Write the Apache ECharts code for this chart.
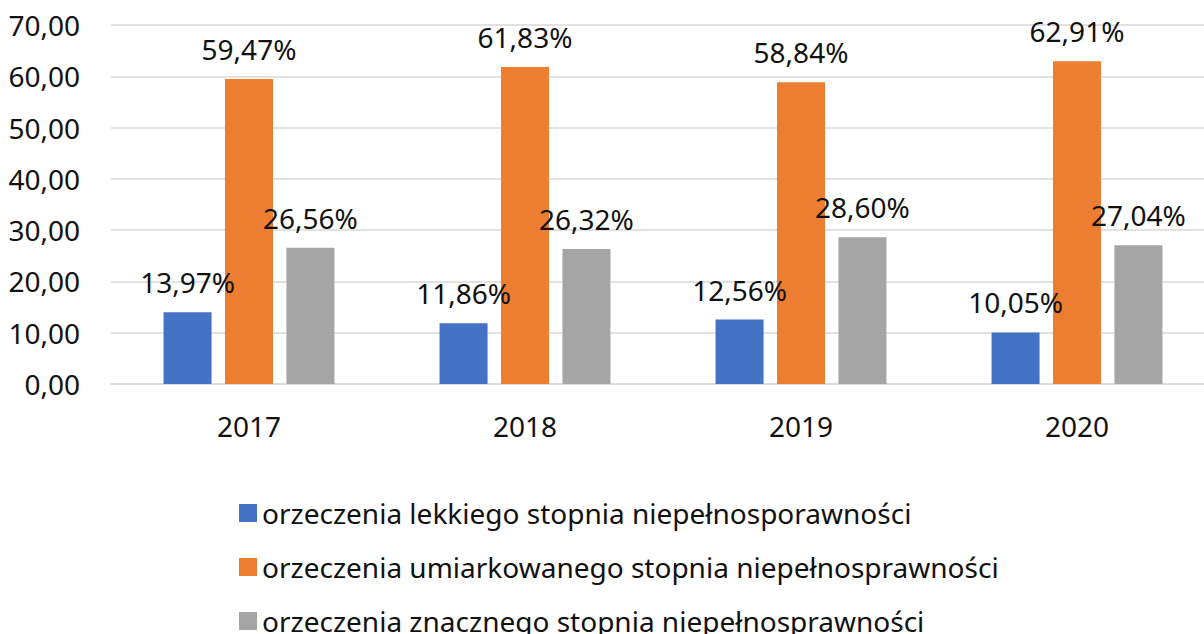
<!DOCTYPE html>
<html>
<head>
<meta charset="utf-8">
<script src="https://cdn.jsdelivr.net/npm/echarts@6/dist/echarts.min.js"></script>
<style>
  html, body { margin: 0; padding: 0; background: #fff; overflow: hidden; }
  #chart { width: 1216px; height: 634px; }
</style>
</head>
<body>
<div id="chart"></div>
<script>
var years = ['2017', '2018', '2019', '2020'];
var seriesNames = [
  'orzeczenia lekkiego stopnia niepełnosporawności',
  'orzeczenia umiarkowanego stopnia niepełnosprawności',
  'orzeczenia znacznego stopnia niepełnosprawności'
];
var lightValues = [13.97, 11.86, 12.56, 10.05];
var moderateValues = [59.47, 61.83, 58.84, 62.91];
var severeValues = [26.56, 26.32, 28.60, 27.04];
var colors = ['#4472C4', '#ED7D31', '#A5A5A5'];

(function() {
  var font = '"Noto Sans", sans-serif';
  var ink = '#111';
  var rule = '#d9d9d9';

  function comma(v, suffix) {
    return v.toFixed(2).replace('.', ',') + (suffix || '');
  }

  function barSeries(name, data, color) {
    return {
      name: name,
      type: 'bar',
      data: data,
      barWidth: 48,
      barGap: '28%',
      itemStyle: { color: color },
      label: {
        show: true,
        position: 'top',
        distance: 16,
        color: ink,
        fontFamily: font,
        fontSize: 28,
        formatter: function(p) { return comma(p.value, '%'); }
      }
    };
  }

  // chart canvas is a bit wider than the window: the plot runs past the right edge
  var chart = echarts.init(document.getElementById('chart'), null, { renderer: 'svg' });
  chart.setOption({
    animation: false,
    color: colors,
    grid: { left: 111, width: 1104, top: 25, bottom: 250, containLabel: false },
    legend: {
      orient: 'vertical',
      left: 239,
      top: 499,
      height: 200,
      padding: 0,
      itemWidth: 18,
      itemHeight: 18,
      itemGap: 26,
      icon: 'rect',
      textStyle: { color: ink, fontFamily: font, fontSize: 28, lineHeight: 28 },
      data: seriesNames
    },
    xAxis: {
      type: 'category',
      data: years,
      axisLine: { show: true, lineStyle: { color: rule, width: 1.5 } },
      axisTick: { show: false },
      axisLabel: { color: ink, fontFamily: font, fontSize: 28, margin: 28 }
    },
    yAxis: {
      type: 'value',
      min: 0,
      max: 70,
      interval: 10,
      axisLine: { show: false },
      axisTick: { show: false },
      splitLine: { lineStyle: { color: rule, width: 1.5 } },
      axisLabel: {
        color: ink,
        fontFamily: font,
        fontSize: 28,
        margin: 31,
        formatter: function(v) { return comma(v); }
      }
    },
    series: [
      barSeries(seriesNames[0], lightValues, colors[0]),
      barSeries(seriesNames[1], moderateValues, colors[1]),
      barSeries(seriesNames[2], severeValues, colors[2])
    ]
  });
  window.addEventListener('resize', function() { chart.resize(); });
})();
</script>
</body>
</html>
